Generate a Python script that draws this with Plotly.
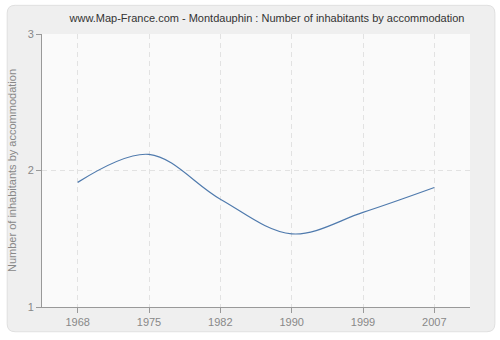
import plotly.graph_objects as go

years = ["1968", "1975", "1982", "1990", "1999", "2007"]
values = [1.913, 2.118, 1.79, 1.536, 1.693, 1.875]
y_ticks = [1, 2, 3]

ML, MR, MT, MB = 40, 30, 34, 30
W, H = 500, 340
PW, PH = W - ML - MR, H - MT - MB


def fx(px):
    return (px - ML) / PW


def fy(py):
    return (H - MB - py) / PH


fig = go.Figure()
fig.add_trace(go.Scatter(
    x=years, y=values, mode="lines",
    line=dict(color="#4f7aad", width=1.2, shape="spline", smoothing=1.0),
    hoverinfo="x+y", showlegend=False,
))

# rounded outer panel (pixel geometry converted to paper fractions)
r = 8
L, R, T, B = 5, 495, 5, 335
path = (f"M {fx(L+r)} {fy(T)} L {fx(R-r)} {fy(T)} Q {fx(R)} {fy(T)} {fx(R)} {fy(T+r)} "
        f"L {fx(R)} {fy(B-r)} Q {fx(R)} {fy(B)} {fx(R-r)} {fy(B)} L {fx(L+r)} {fy(B)} "
        f"Q {fx(L)} {fy(B)} {fx(L)} {fy(B-r)} L {fx(L)} {fy(T+r)} Q {fx(L)} {fy(T)} {fx(L+r)} {fy(T)} Z")
fig.add_shape(type="path", xref="paper", yref="paper", layer="below",
              path=path, fillcolor="#efefef", line=dict(color="#e0e0e0", width=1))
fig.add_shape(type="rect", xref="paper", yref="paper", layer="below",
              x0=0, x1=1, y0=0, y1=1, fillcolor="#fafafa", line=dict(width=0))

fig.update_layout(
    width=W, height=H,
    margin=dict(l=ML, r=MR, t=MT, b=MB),
    paper_bgcolor="white",
    plot_bgcolor="#fafafa",
    font=dict(family="Liberation Sans", size=11, color="#888888"),
    title=dict(text="www.Map-France.com - Montdauphin : Number of inhabitants by accommodation",
               x=0.534, xanchor="center", y=0.947, yanchor="middle",
               font=dict(size=11, color="#333333")),
    xaxis=dict(type="category", range=[-0.5, 5.5], showline=True, linecolor="#999999",
               ticks="outside", ticklen=5, tickcolor="#999999",
               showgrid=True, gridcolor="#e2e2e2", griddash="5px,4px", gridwidth=1,
               tickfont=dict(size=11, color="#888888"), zeroline=False),
    yaxis=dict(range=[1, 3], tickvals=y_ticks, showline=True, linecolor="#999999",
               ticks="outside", ticklen=5, tickcolor="#999999",
               showgrid=True, gridcolor="#e2e2e2", griddash="5px,4px", gridwidth=1,
               tickfont=dict(size=11, color="#888888"), zeroline=False,
               title=dict(text="Number of inhabitants by accommodation",
                          font=dict(size=11, color="#888888"), standoff=8)),
)

fig.write_html("out.html")
